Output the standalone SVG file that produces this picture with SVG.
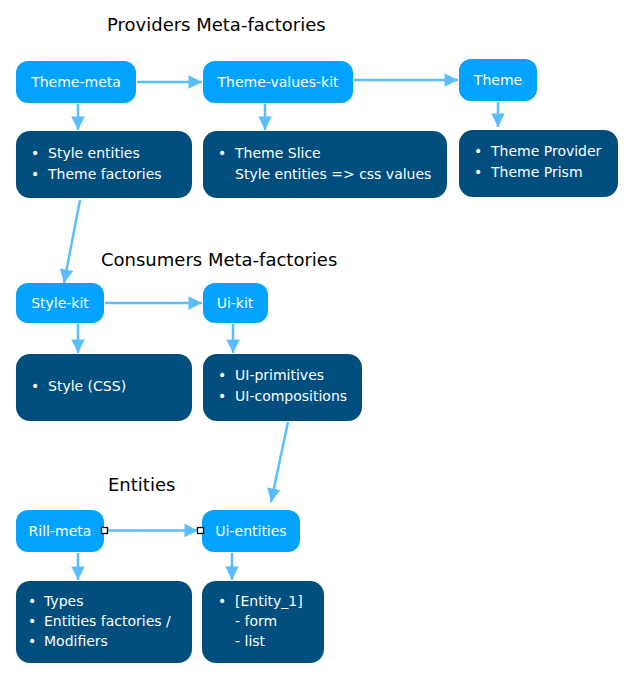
<svg xmlns="http://www.w3.org/2000/svg" width="634" height="682" viewBox="0 0 634 682">
<style>
.node{fill:#02A3FE}
.box{fill:#004E7E}
.lbl{font-family:"DejaVu Sans",Verdana,sans-serif;font-size:14px;fill:#ffffff}
.nl{text-anchor:middle}
.title{font-family:"DejaVu Sans",Verdana,sans-serif;font-size:18px;fill:#000000}
.edge{stroke:#5ABEFD;stroke-width:2.5;fill:none}
.pt{fill:#ffffff;stroke:#000000;stroke-width:1.3}
</style>
<defs>
<marker id="ah" viewBox="0 0 10 10" refX="10" refY="5" markerWidth="5.6" markerHeight="5.4" markerUnits="strokeWidth" orient="auto">
<path d="M0,0 L10,5 L0,10 z" fill="#5ABEFD"/>
</marker>
</defs>
<rect width="634" height="682" fill="#ffffff"/>
<text class="title" x="107" y="31">Providers Meta-factories</text>
<text class="title" x="101" y="266">Consumers Meta-factories</text>
<text class="title" x="108" y="491">Entities</text>
<g id="theme-meta">
<rect class="node" x="16" y="61" width="120" height="42" rx="12"/>
<text class="lbl nl" x="76" y="87">Theme-meta</text>
</g>
<g id="theme-values-kit">
<rect class="node" x="203" y="61" width="150" height="42" rx="12"/>
<text class="lbl nl" x="278" y="87">Theme-values-kit</text>
</g>
<g id="theme">
<rect class="node" x="459" y="59" width="78" height="42" rx="12"/>
<text class="lbl nl" x="498" y="85">Theme</text>
</g>
<g id="theme-meta-details">
<rect class="box" x="16" y="131" width="176" height="67" rx="14"/>
<text class="lbl" x="31" y="158">•</text>
<text class="lbl" x="48" y="158">Style entities</text>
<text class="lbl" x="31" y="179">•</text>
<text class="lbl" x="48" y="179">Theme factories</text>
</g>
<g id="theme-values-kit-details">
<rect class="box" x="203" y="131" width="244" height="67" rx="14"/>
<text class="lbl" x="218" y="158">•</text>
<text class="lbl" x="235" y="158">Theme Slice</text>
<text class="lbl" x="235" y="179">Style entities =&gt; css values</text>
</g>
<g id="theme-details">
<rect class="box" x="459" y="130" width="159" height="67" rx="14"/>
<text class="lbl" x="474" y="156">•</text>
<text class="lbl" x="491" y="156">Theme Provider</text>
<text class="lbl" x="474" y="177">•</text>
<text class="lbl" x="491" y="177">Theme Prism</text>
</g>
<g id="style-kit">
<rect class="node" x="16" y="283" width="88" height="40" rx="12"/>
<text class="lbl nl" x="60" y="308">Style-kit</text>
</g>
<g id="ui-kit">
<rect class="node" x="203" y="283" width="65" height="40" rx="12"/>
<text class="lbl nl" x="235" y="308">Ui-kit</text>
</g>
<g id="style-kit-details">
<rect class="box" x="16" y="354" width="176" height="67" rx="14"/>
<text class="lbl" x="31" y="391">•</text>
<text class="lbl" x="48" y="391">Style (CSS)</text>
</g>
<g id="ui-kit-details">
<rect class="box" x="203" y="354" width="159" height="67" rx="14"/>
<text class="lbl" x="218" y="380">•</text>
<text class="lbl" x="235" y="380">UI-primitives</text>
<text class="lbl" x="218" y="401">•</text>
<text class="lbl" x="235" y="401">UI-compositions</text>
</g>
<g id="rill-meta">
<rect class="node" x="16" y="510" width="88" height="42" rx="12"/>
<text class="lbl nl" x="60" y="536">Rill-meta</text>
</g>
<g id="ui-entities">
<rect class="node" x="202" y="510" width="98" height="42" rx="12"/>
<text class="lbl nl" x="251" y="536">Ui-entities</text>
</g>
<g id="rill-meta-details">
<rect class="box" x="16" y="581" width="176" height="82" rx="14"/>
<text class="lbl" x="28" y="606">•</text>
<text class="lbl" x="44" y="606">Types</text>
<text class="lbl" x="28" y="626">•</text>
<text class="lbl" x="44" y="626">Entities factories /</text>
<text class="lbl" x="28" y="646">•</text>
<text class="lbl" x="44" y="646">Modifiers</text>
</g>
<g id="ui-entities-details">
<rect class="box" x="202" y="581" width="122" height="82" rx="14"/>
<text class="lbl" x="218" y="606">•</text>
<text class="lbl" x="235" y="606">[Entity_1]</text>
<text class="lbl" x="235" y="626">- form</text>
<text class="lbl" x="235" y="646">- list</text>
</g>
<g id="connectors">
<line class="edge" x1="137" y1="82" x2="202" y2="82" marker-end="url(#ah)"/>
<line class="edge" x1="78" y1="104" x2="78" y2="130" marker-end="url(#ah)"/>
<line class="edge" x1="265" y1="104" x2="265" y2="130" marker-end="url(#ah)"/>
<line class="edge" x1="354" y1="80" x2="458" y2="80" marker-end="url(#ah)"/>
<line class="edge" x1="498" y1="102" x2="498" y2="127" marker-end="url(#ah)"/>
<line class="edge" x1="80" y1="200" x2="64" y2="283" marker-end="url(#ah)"/>
<line class="edge" x1="105" y1="303" x2="202" y2="303" marker-end="url(#ah)"/>
<line class="edge" x1="78" y1="324" x2="78" y2="353" marker-end="url(#ah)"/>
<line class="edge" x1="233" y1="324" x2="233" y2="353" marker-end="url(#ah)"/>
<line class="edge" x1="288" y1="422" x2="271" y2="502" marker-end="url(#ah)"/>
<line class="edge" x1="107" y1="530.5" x2="198" y2="530.5" marker-end="url(#ah)"/>
<line class="edge" x1="78" y1="553" x2="78" y2="580" marker-end="url(#ah)"/>
<line class="edge" x1="232" y1="553" x2="232" y2="580" marker-end="url(#ah)"/>
<rect class="pt" x="101.5" y="527.5" width="6" height="6"/>
<rect class="pt" x="197.5" y="527.5" width="6" height="6"/>
</g>
</svg>
